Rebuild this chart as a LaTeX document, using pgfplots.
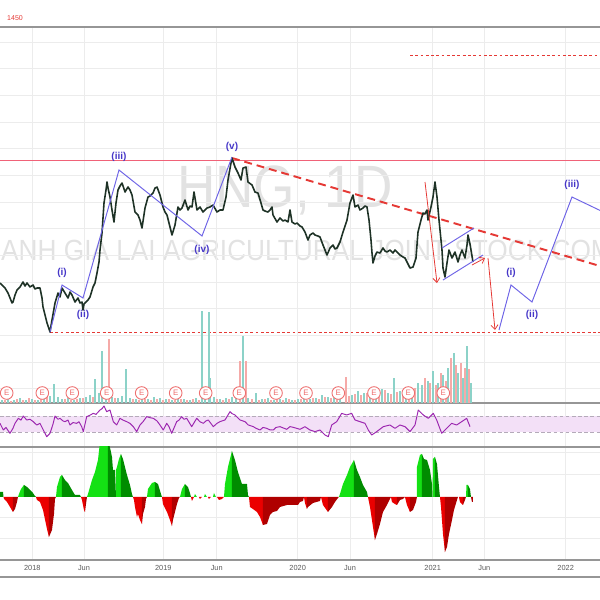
\documentclass[border=0pt]{standalone}
\usepackage{pgfplots}
\pgfplotsset{compat=1.18}
\usepackage{fontspec}
\setmainfont{Liberation Sans}
\usetikzlibrary{arrows.meta}
\definecolor{gridc}{RGB}{236,236,236}
\definecolor{sepc}{RGB}{150,150,150}
\definecolor{wmark}{RGB}{226,226,226}
\definecolor{pricec}{RGB}{30,50,38}
\definecolor{trend}{RGB}{229,57,53}
\definecolor{hline}{RGB}{240,98,120}
\definecolor{wave}{RGB}{110,100,230}
\definecolor{wavelab}{RGB}{70,55,200}
\definecolor{volup}{RGB}{140,210,200}
\definecolor{voldn}{RGB}{245,170,168}
\definecolor{emark}{RGB}{238,110,110}
\definecolor{rsiline}{RGB}{156,39,176}
\definecolor{rsiband}{RGB}{243,224,247}
\definecolor{rsidash}{RGB}{180,170,185}
\definecolor{lime2}{RGB}{20,225,20}
\definecolor{green2}{RGB}{0,140,0}
\definecolor{red2}{RGB}{235,0,0}
\definecolor{maroon2}{RGB}{175,0,0}
\definecolor{labc}{RGB}{90,90,90}

\begin{document}
\begin{tikzpicture}
% ---------------- main panel (pixel coordinates, y downwards) ----------------
\begin{axis}[name=main, at={(6cm,6cm)}, anchor=center, scale only axis,
  width=12cm, height=12cm, xmin=0, xmax=600, ymin=0, ymax=600,
  y dir=reverse, hide axis]
% watermark
\node[anchor=base, xscale=0.89, text=wmark, font=\fontsize{34}{34}\selectfont] at (axis cs:285,207) {HNG, 1D};
\node[anchor=base, xscale=0.9, text=wmark, font=\fontsize{16.6}{17}\selectfont] at (axis cs:290,260) {HOANG ANH GIA LAI AGRICULTURAL JOINT STOCK COMPANY};
% grid
\pgfplotsinvokeforeach{42,68.67,95.33,122,148.67,175.33,202,228.67,255.33,282,308.67,335.33,362,388.67,452,474,517,538}{
  \addplot[gridc, line width=0.5pt] coordinates {(0,#1) (600,#1)};
}
\pgfplotsinvokeforeach{32.3,84,163.3,216.7,297.7,350,432.7,484.3,565.7}{
  \addplot[gridc, line width=0.5pt] coordinates {(#1,27) (#1,560)};
}
% separators
\pgfplotsinvokeforeach{27,403,447,560,577}{
  \addplot[sepc, line width=0.6pt] coordinates {(0,#1) (600,#1)};
}
% horizontal levels
\addplot[hline, line width=0.5pt] coordinates {(0,160) (600,160)};
\addplot[trend, line width=0.5pt, dash pattern=on 1.6pt off 1.4pt] coordinates {(50,332) (600,332)};
\addplot[trend, line width=0.5pt, dash pattern=on 1.6pt off 1.4pt] coordinates {(410,55) (600,55)};
% trend line
\addplot[trend, line width=1.1pt, dash pattern=on 4.5pt off 2.8pt] coordinates {(232,158) (600,266)};
% price
\addplot[pricec, line width=0.9pt, line join=round] coordinates {
(0,283)(3,286)(5,288)(8,293)(10,298)(12,303)(13,302)(15,295)(17,290)(20,287)(23,282)(25,286)(27,283)(30,287)(33,285)(35,289)(37,288)(40,288)(42,298)(43,307)(45,315)(47,323)(50,332)(52,320)(55,303)(58,293)(60,297)(62,288)(65,293)(68,298)(70,292)(72,295)(75,302)(78,298)(80,303)(82,302)(83,310)(84,304)(86,302)(88,300)(90,297)(93,287)(95,283)(97,273)(99,262)(100,250)(102,233)(104,203)(106,190)(107,182)(108,188)(110,197)(112,210)(114,222)(116,203)(118,190)(120,186)(122,183)(125,192)(128,187)(130,190)(132,195)(135,212)(138,215)(140,220)(142,228)(145,208)(148,197)(150,196)(153,193)(155,188)(157,187)(160,195)(163,207)(165,212)(167,215)(170,227)(172,235)(175,225)(178,207)(180,210)(182,208)(185,200)(188,210)(190,206)(192,207)(194,192)(197,210)(200,207)(203,212)(205,210)(207,208)(210,207)(213,205)(217,212)(220,210)(223,210)(226,197)(228,180)(231,163)(232,158)(235,167)(238,173)(241,180)(243,168)(246,167)(248,182)(252,185)(255,192)(258,193)(261,203)(263,210)(265,211)(268,212)(270,210)(272,207)(273,215)(277,222)(280,218)(283,221)(285,220)(288,222)(290,210)(292,222)(295,224)(297,223)(300,226)(302,227)(305,232)(308,240)(310,235)(313,233)(315,235)(318,236)(320,237)(323,245)(325,250)(327,255)(330,248)(333,245)(335,249)(337,248)(340,242)(343,232)(345,226)(347,220)(350,203)(353,195)(355,207)(358,205)(360,210)(363,208)(365,206)(367,207)(369,220)(371,240)(372,253)(373,263)(375,256)(377,252)(380,253)(383,248)(385,251)(387,252)(390,250)(393,253)(395,250)(397,252)(400,255)(403,257)(405,258)(407,262)(410,268)(413,267)(416,258)(418,232)(421,220)(423,213)(425,214)(427,210)(428,220)(431,207)(433,197)(435,182)(437,197)(439,220)(441,240)(442,250)(443,268)(445,277)(447,263)(449,250)(452,258)(455,252)(458,262)(460,255)(462,250)(465,258)(467,245)(468,235)(470,244)(471,250)(473,262)
};
% Elliott waves
\addplot[wave, line width=0.55pt] coordinates {(50,332)(62,285)(83,298)(119,170)(202,236)(232,157)};
\addplot[wave, line width=0.55pt] coordinates {(499,330)(511,285)(532,302)(572,197)(620,220)};
\addplot[wave, line width=0.55pt] coordinates {(442,248)(474,228)};
\addplot[wave, line width=0.55pt] coordinates {(443,280)(483,255)};
% red arrows
\addplot[trend, line width=0.45pt, -{Straight Barb[length=2.5pt,width=4pt]}] coordinates {(425,182)(437,283)};
\addplot[trend, line width=0.45pt, -{Straight Barb[length=2.5pt,width=4pt]}] coordinates {(472,265)(485,258)};
\addplot[trend, line width=0.45pt, -{Straight Barb[length=2.5pt,width=4pt]}] coordinates {(488,258)(495,330)};
% wave labels
\begin{scope}[every node/.style={text=wavelab, font=\bfseries\fontsize{5.7}{6}\selectfont}]
\node at (axis cs:62,273) {(i)};
\node at (axis cs:83,315) {(ii)};
\node at (axis cs:119,157) {(iii)};
\node at (axis cs:202,250) {(iv)};
\node at (axis cs:232,147) {(v)};
\node at (axis cs:511,273) {(i)};
\node at (axis cs:532,315) {(ii)};
\node at (axis cs:572,185) {(iii)};
\end{scope}
% date labels
\begin{scope}[every node/.style={text=labc, font=\fontsize{4.2}{5}\selectfont}]
\node at (axis cs:32.3,568) {2018};
\node at (axis cs:84,568) {Jun};
\node at (axis cs:163.3,568) {2019};
\node at (axis cs:216.7,568) {Jun};
\node at (axis cs:297.7,568) {2020};
\node at (axis cs:350,568) {Jun};
\node at (axis cs:432.7,568) {2021};
\node at (axis cs:484.3,568) {Jun};
\node at (axis cs:565.7,568) {2022};
\end{scope}
\node[anchor=west, text=trend, font=\fontsize{4}{5}\selectfont] at (axis cs:1,18.5) {1450};
\end{axis}

% ---------------- volume ----------------
\begin{axis}[at={(0,3.94cm)}, anchor=south west, scale only axis, width=12cm, height=2cm,
  xmin=0, xmax=600, ymin=0, ymax=100, hide axis]
\addplot[ycomb, volup, line width=0.8pt] coordinates {
(2,3)(8,4)(14,3)(20,5)(26,3)(32,4)(38,3)(44,5)(50,7)(54,19)(58,6)(62,4)(68,5)(74,3)(80,5)(86,6)(90,8)(95,24)(99,10)(102,52)(106,8)(112,6)(118,5)(122,7)(126,34)(130,5)(136,4)(142,5)(148,4)(154,6)(160,5)(166,4)(172,3)(178,5)(184,4)(190,3)(196,5)(202,92)(205,12)(209,91)(210,25)(214,6)(220,4)(226,5)(232,6)(236,7)(243,67)(248,5)(256,10)(262,4)(268,5)(274,3)(280,4)(286,5)(292,3)(298,4)(304,6)(310,4)(316,5)(322,8)(328,6)(334,5)(340,9)(352,8)(358,12)(364,10)(370,9)(376,12)(382,14)(388,10)(394,25)(400,12)(406,14)(412,13)(418,20)(422,18)(428,22)(433,32)(438,20)(443,28)(448,35)(454,50)(458,30)(463,25)(467,57)(471,20)
};
\addplot[ycomb, voldn, line width=0.8pt] coordinates {
(5,3)(11,2)(17,4)(23,3)(29,5)(35,3)(41,4)(47,6)(65,4)(71,3)(77,4)(83,5)(93,6)(109,64)(115,5)(133,4)(139,3)(145,4)(151,3)(157,4)(163,3)(169,4)(175,3)(181,4)(187,3)(193,4)(199,3)(217,4)(223,3)(229,4)(240,42)(246,42)(252,4)(259,3)(265,4)(271,3)(277,4)(283,3)(289,4)(295,3)(301,4)(307,3)(313,5)(319,4)(325,6)(331,5)(337,6)(346,26)(349,7)(355,9)(361,8)(367,10)(373,12)(379,10)(385,13)(391,9)(397,11)(403,12)(409,14)(415,15)(425,25)(430,20)(436,18)(441,30)(446,22)(451,45)(456,38)(461,40)(465,35)(469,34)
};
\addplot[only marks, mark=*, mark size=3.6pt, mark options={fill=white, draw=emark, line width=0.5pt}] coordinates {
(6.7,10)(42.3,10)(72.3,10)(106.7,10)(141.7,10)(175.7,10)(205.7,10)(239.3,10)(276,10)(306,10)(338.3,10)(374,10)(408.3,10)(443.3,10)};
\addplot[only marks, mark=text, text mark={E}, text mark as node=true, text mark style={text=emark, font=\fontsize{4.5}{5}\selectfont}] coordinates {
(6.7,10)(42.3,10)(72.3,10)(106.7,10)(141.7,10)(175.7,10)(205.7,10)(239.3,10)(276,10)(306,10)(338.3,10)(374,10)(408.3,10)(443.3,10)};
\end{axis}

% ---------------- RSI ----------------
\begin{axis}[at={(0,3.06cm)}, anchor=south west, scale only axis, width=12cm, height=0.88cm,
  xmin=0, xmax=600, ymin=-6, ymax=102, hide axis]
\addplot[fill=rsiband, draw=none] coordinates {(0,30)(600,30)(600,70)(0,70)} -- cycle;
\addplot[rsidash, line width=0.4pt, dash pattern=on 2pt off 1.5pt] coordinates {(0,30)(600,30)};
\addplot[rsidash, line width=0.4pt, dash pattern=on 2pt off 1.5pt] coordinates {(0,70)(600,70)};
\addplot[rsiline, line width=0.55pt, line join=round] coordinates {
(0,52.1)(3.3,35.7)(6,42)(10,27.6)(13,40)(15,52.1)(18.3,64.4)(21,60)(23.3,70.1)(26.7,60.3)(30,62)(33.3,56.2)(36.7,48)(40,52.1)(43.3,35.7)(46.7,19.4)(50,27.6)(53,50)(55,70.1)(58,62)(60,64.4)(63,58)(65,56.2)(68,60)(70,48)(73,54)(76.7,52.1)(79,56)(81.7,43.9)(83.3,31.7)(86.7,68.5)(90,72)(93.3,76.6)(96,74)(100,84.8)(102,88)(104,94.6)(106.7,80.7)(110,84.8)(113.3,56.2)(116.7,48)(120,64.4)(123,60)(126.7,56.2)(130,52)(133.3,43.9)(136.7,31.7)(140,48)(143,56)(146.7,68.5)(150,66)(153.3,64.4)(157,58)(160,48)(163.3,35.7)(166.7,52.1)(169,44)(171.7,27.6)(176.7,56.2)(179,60)(181.7,68.5)(184,62)(186.7,64.4)(191.7,43.9)(196.7,64.4)(200,56)(203.3,52.1)(206,58)(208.3,60.3)(213.3,43.9)(217,52)(220,56.2)(225,60.3)(230,80.7)(232,76)(235,72.6)(240,60.3)(245,56.2)(248.3,48)(253.3,43.9)(256,40)(260,35.7)(263,42)(266.7,39.8)(270,36)(273.3,35.7)(276,42)(280,43.9)(286.7,37.4)(290,44)(293.3,42.3)(300,37.4)(305,43.9)(310,35.7)(315,31.7)(320,35.7)(325,23.5)(328.3,19.4)(331.7,48)(336.7,56.2)(341.7,76.6)(346.7,72.6)(351.7,76.6)(355,60.3)(360,56.2)(365,52.1)(368.3,35.7)(371.7,23.5)(376.7,31.7)(383.3,43.9)(390,48)(395,39.8)(400,48)(405,43.9)(410,31.7)(415,48)(418.3,84.8)(423.3,72.6)(428.3,64.4)(433.3,76.6)(436.7,60.3)(441.7,27.6)(446.7,39.8)(451.7,52.1)(456.7,48)(461.7,56.2)(466.7,64.4)(470,43.9)
};
\end{axis}

% ---------------- squeeze momentum histogram ----------------
\begin{axis}[at={(0,0.8cm)}, anchor=south west, scale only axis, width=12cm, height=2.26cm,
  xmin=0, xmax=600, ymin=-63, ymax=50, hide axis]
% positive, rising
\addplot[fill=lime2, draw=none] coordinates {(18,0)(19,3)(21,8)(24,12)(24,0)} -- cycle;
\addplot[fill=lime2, draw=none] coordinates {(56,0)(57,10)(60,20)(62,22)(62,0)} -- cycle;
\addplot[fill=lime2, draw=none] coordinates {(87,0)(88,3)(92,17)(95,25)(98,37)(100,55)(104,62)(108,58)(108,0)} -- cycle;
\addplot[fill=lime2, draw=none] coordinates {(116,0)(116,27)(117,30)(119,38)(121,43)(121,0)} -- cycle;
\addplot[fill=lime2, draw=none] coordinates {(147,0)(148,8)(152,14)(155,15)(155,0)} -- cycle;
\addplot[fill=lime2, draw=none] coordinates {(180,0)(182,8)(185,13)(185,0)} -- cycle;
\addplot[fill=lime2, draw=none] coordinates {(194,0)(195,3)(197,0)} -- cycle;
\addplot[fill=lime2, draw=none] coordinates {(204,0)(205,3)(207,0)} -- cycle;
\addplot[fill=lime2, draw=none] coordinates {(213,0)(214,4)(216,0)} -- cycle;
\addplot[fill=lime2, draw=none] coordinates {(224,0)(225,13)(228,30)(232,46)(232,0)} -- cycle;
\addplot[fill=lime2, draw=none] coordinates {(339,0)(340,3)(343,13)(347,22)(350,30)(354,37)(354,0)} -- cycle;
\addplot[fill=lime2, draw=none] coordinates {(417,0)(417,30)(420,42)(422,43)(422,0)} -- cycle;
\addplot[fill=lime2, draw=none] coordinates {(432.5,0)(433,38)(435,40)(435,0)} -- cycle;
\addplot[fill=lime2, draw=none] coordinates {(466,0)(466.5,12)(468,12)(468,0)} -- cycle;
% positive, falling
\addplot[fill=green2, draw=none] coordinates {(0,0)(0,5)(3,5)(3.5,0)} -- cycle;
\addplot[fill=green2, draw=none] coordinates {(24,0)(24,12)(27,10)(30,7)(33,4)(35,1)(36,0)} -- cycle;
\addplot[fill=green2, draw=none] coordinates {(62,0)(62,22)(65,17)(68,14)(72,7)(75,2)(80,2)(81,0)} -- cycle;
\addplot[fill=green2, draw=none] coordinates {(108,0)(108,58)(111,45)(112,40)(113,27)(115,27)(116,0)} -- cycle;
\addplot[fill=green2, draw=none] coordinates {(121,0)(121,43)(123,38)(125,30)(127,22)(130,12)(132,3)(133,0)} -- cycle;
\addplot[fill=green2, draw=none] coordinates {(155,0)(155,15)(158,13)(161,3)(162,0)} -- cycle;
\addplot[fill=green2, draw=none] coordinates {(185,0)(185,13)(188,10)(190,4)(191,0)} -- cycle;
\addplot[fill=green2, draw=none] coordinates {(232,0)(232,46)(235,37)(238,25)(242,13)(247,13)(248,2)(249,0)} -- cycle;
\addplot[fill=green2, draw=none] coordinates {(354,0)(354,37)(357,27)(360,20)(363,12)(367,5)(368,0)} -- cycle;
\addplot[fill=green2, draw=none] coordinates {(422,0)(422,43)(424,38)(427,37)(430,27)(432,13)(432.5,0)} -- cycle;
\addplot[fill=green2, draw=none] coordinates {(435,0)(435,40)(437,33)(439,10)(440,0)} -- cycle;
\addplot[fill=green2, draw=none] coordinates {(468,0)(468,12)(470,8)(471,0)} -- cycle;
% negative, falling
\addplot[fill=red2, draw=none] coordinates {(3.5,0)(4,-2)(7,-5)(10,-10)(13,-15)(13,0)} -- cycle;
\addplot[fill=red2, draw=none] coordinates {(36,0)(37,-3)(40,-5)(43,-13)(47,-32)(49,-40)(49,0)} -- cycle;
\addplot[fill=red2, draw=none] coordinates {(81,0)(82,-3)(84,-13)(85,-15)(85,0)} -- cycle;
\addplot[fill=red2, draw=none] coordinates {(133,0)(134,-3)(135,-10)(137,-20)(138,-17)(140,-23)(142,-27)(142,0)} -- cycle;
\addplot[fill=red2, draw=none] coordinates {(162,0)(163,-7)(167,-15)(170,-23)(172,-29)(172,0)} -- cycle;
\addplot[fill=red2, draw=none] coordinates {(191,0)(192,-4)(194,0)} -- cycle;
\addplot[fill=red2, draw=none] coordinates {(199,0)(200,-2)(202,0)} -- cycle;
\addplot[fill=red2, draw=none] coordinates {(208,0)(209,-2)(211,0)} -- cycle;
\addplot[fill=red2, draw=none] coordinates {(217,0)(219,-3)(222,-2)(224,0)} -- cycle;
\addplot[fill=red2, draw=none] coordinates {(249,0)(250,-10)(253,-12)(257,-15)(260,-20)(263,-28)(263,0)} -- cycle;
\addplot[fill=red2, draw=none] coordinates {(304,0)(305,-6)(307,-12)(307,0)} -- cycle;
\addplot[fill=red2, draw=none] coordinates {(321,0)(323,-8)(328,-15)(328,0)} -- cycle;
\addplot[fill=red2, draw=none] coordinates {(368,0)(370,-10)(373,-30)(375,-43)(375,0)} -- cycle;
\addplot[fill=red2, draw=none] coordinates {(391,0)(392,-5)(395,-7)(397,-8)(397,0)} -- cycle;
\addplot[fill=red2, draw=none] coordinates {(405,0)(407,-8)(410,-15)(410,0)} -- cycle;
\addplot[fill=red2, draw=none] coordinates {(440,0)(441,-10)(443,-37)(445,-55)(445,0)} -- cycle;
\addplot[fill=red2, draw=none] coordinates {(459,0)(460,-5)(463,-8)(463,0)} -- cycle;
% negative, rising
\addplot[fill=maroon2, draw=none] coordinates {(13,0)(13,-15)(15,-12)(17,-5)(18,0)} -- cycle;
\addplot[fill=maroon2, draw=none] coordinates {(49,0)(49,-40)(52,-33)(54,-17)(55,-2)(56,0)} -- cycle;
\addplot[fill=maroon2, draw=none] coordinates {(85,0)(85,-15)(86,-7)(87,0)} -- cycle;
\addplot[fill=maroon2, draw=none] coordinates {(142,0)(142,-27)(143,-17)(145,-10)(146,-2)(147,0)} -- cycle;
\addplot[fill=maroon2, draw=none] coordinates {(172,0)(172,-29)(173,-23)(177,-7)(179,-1)(180,0)} -- cycle;
\addplot[fill=maroon2, draw=none] coordinates {(263,0)(263,-28)(267,-27)(270,-18)(273,-15)(277,-14)(280,-10)(287,-8)(293,-8)(298,-8)(300,-5)(303,-4)(304,0)} -- cycle;
\addplot[fill=maroon2, draw=none] coordinates {(307,0)(307,-12)(308,-10)(313,-6)(320,-4)(321,0)} -- cycle;
\addplot[fill=maroon2, draw=none] coordinates {(328,0)(328,-15)(332,-10)(335,-5)(338,-1)(339,0)} -- cycle;
\addplot[fill=maroon2, draw=none] coordinates {(375,0)(375,-43)(377,-37)(380,-27)(383,-15)(387,-8)(390,-2)(391,0)} -- cycle;
\addplot[fill=maroon2, draw=none] coordinates {(397,0)(397,-8)(400,-3)(403,-2)(405,0)} -- cycle;
\addplot[fill=maroon2, draw=none] coordinates {(410,0)(410,-15)(413,-13)(416,-5)(417,0)} -- cycle;
\addplot[fill=maroon2, draw=none] coordinates {(445,0)(445,-55)(447,-50)(449,-37)(452,-23)(454,-13)(457,-3)(458,0)} -- cycle;
\addplot[fill=maroon2, draw=none] coordinates {(463,0)(463,-8)(465,-3)(466,0)} -- cycle;
\addplot[fill=maroon2, draw=none] coordinates {(471,0)(472,-5)(473,-5)(473,0)} -- cycle;
\end{axis}
\pgfresetboundingbox
\useasboundingbox (0,0) rectangle (12cm,12cm);
\end{tikzpicture}
\end{document}
